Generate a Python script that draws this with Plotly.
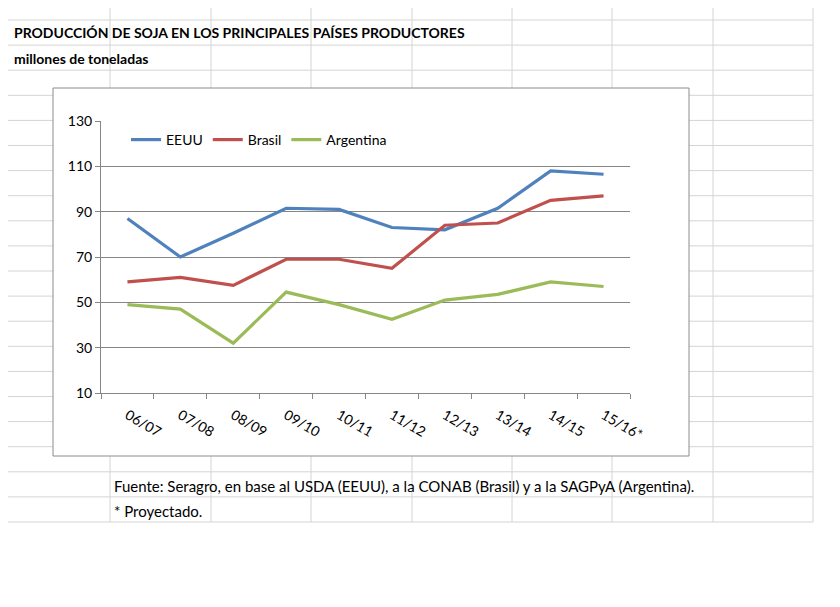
import plotly.graph_objects as go

categories = ["06/07", "07/08", "08/09", "09/10", "10/11", "11/12", "12/13", "13/14", "14/15", "15/16*"]
eeuu = [87, 70, 80.5, 91.5, 91, 83, 82, 91.5, 108, 106.5]
brasil = [59, 61, 57.5, 69, 69, 65, 84, 85, 95, 97]
argentina = [49, 47, 32, 54.5, 49, 42.5, 51, 53.5, 59, 57]
y_ticks = [10, 30, 50, 70, 90, 110, 130]

W, H = 840, 607
FONT = "Lato"

fig = go.Figure()
for name, vals, col in [("EEUU", eeuu, "#4f81bd"), ("Brasil", brasil, "#c0504d"), ("Argentina", argentina, "#9bbb59")]:
    fig.add_trace(go.Scatter(x=categories, y=vals, name=name, mode="lines",
                             line=dict(color=col, width=3.2)))

shapes = []
col_x = [102, 203, 303, 404, 504, 604, 705, 805]
row_y = [12 + 25.1 * i for i in range(21)]
for x in col_x:
    shapes.append(dict(type="line", xref="paper", yref="paper", x0=x / W, x1=x / W,
                       y0=1, y1=1 - 514 / H, line=dict(color="#d4d4d4", width=1), layer="below"))
for y in row_y:
    shapes.append(dict(type="line", xref="paper", yref="paper", x0=0, x1=805 / W,
                       y0=1 - y / H, y1=1 - y / H, line=dict(color="#d4d4d4", width=1), layer="below"))
shapes.append(dict(type="rect", xref="paper", yref="paper", x0=45 / W, x1=681 / W,
                   y0=1 - 448 / H, y1=1 - 80 / H, fillcolor="white",
                   line=dict(color="#8c8c8c", width=1), layer="below"))

fig.update_layout(
    width=W, height=H, margin=dict(l=0, r=0, t=0, b=0, pad=0, autoexpand=False),
    paper_bgcolor="white", plot_bgcolor="rgba(0,0,0,0)",
    font=dict(family=FONT, size=14, color="black"),
    shapes=shapes,
    showlegend=True,
    legend=dict(orientation="h", x=118 / W, y=1 - 116 / H, xanchor="left", yanchor="top",
                bgcolor="rgba(0,0,0,0)", font=dict(size=14), tracegroupgap=0),
    xaxis=dict(domain=[93 / W, 622 / W], range=[-0.5, 9.5], automargin=False, showgrid=False,
               showline=True, linecolor="#868686",
               ticks="outside", tickson="boundaries", ticklen=5, tickcolor="#868686",
               ticklabelstandoff=8, tickfont=dict(size=14)),
    yaxis=dict(domain=[1 - 385 / H, 1 - 113 / H], range=[10, 130], tickvals=y_ticks, automargin=False,
               showgrid=True, gridcolor="#868686", gridwidth=1, showline=True,
               linecolor="#868686", zeroline=False, ticks="outside", ticklen=5,
               tickcolor="#868686", tickfont=dict(size=14)),
    annotations=[
        dict(text="<b>PRODUCCIÓN DE SOJA EN LOS PRINCIPALES PAÍSES PRODUCTORES</b>", xref="paper", yref="paper",
             x=4 / W, y=1 - 25 / H, xanchor="left", yanchor="middle", showarrow=False, font=dict(size=14)),
        dict(text="<b>millones de toneladas</b>", xref="paper", yref="paper",
             x=4 / W, y=1 - 50 / H, xanchor="left", yanchor="middle", showarrow=False, font=dict(size=14)),
        dict(text="Fuente: Seragro, en base al USDA (EEUU), a la CONAB (Brasil) y a la SAGPyA (Argentina).",
             xref="paper", yref="paper", x=104 / W, y=1 - 478 / H, xanchor="left", yanchor="middle",
             showarrow=False, font=dict(size=15)),
        dict(text="* Proyectado.", xref="paper", yref="paper", x=104 / W, y=1 - 503 / H,
             xanchor="left", yanchor="middle", showarrow=False, font=dict(size=15)),
    ],
)
fig.write_html("out.html")
